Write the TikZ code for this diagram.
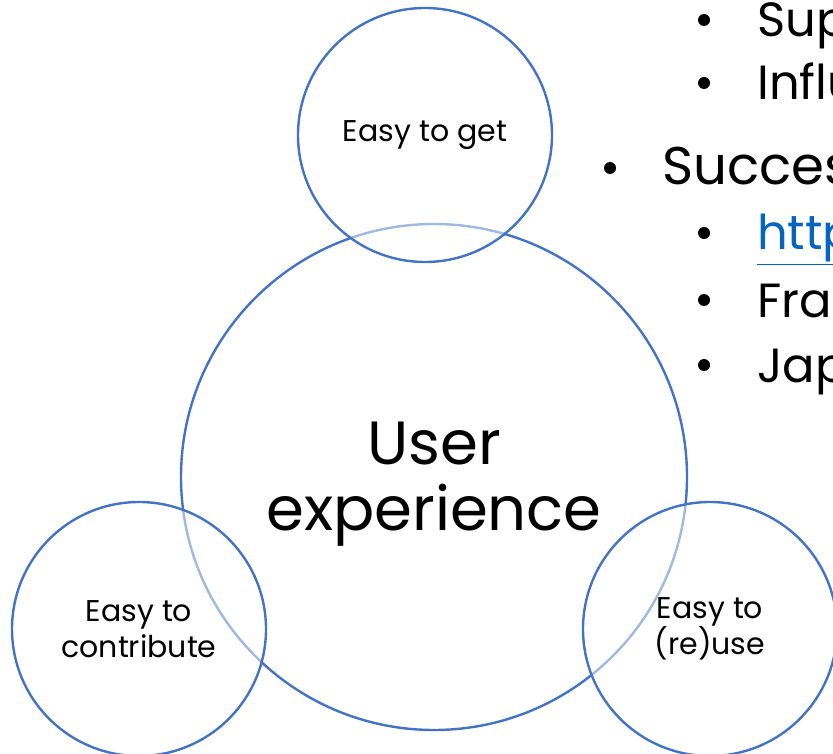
\documentclass[tikz,border=0pt]{standalone}
\usepackage{fontspec}
\setmainfont{Poppins}
\definecolor{accentblue}{RGB}{68,114,196}
\definecolor{linkblue}{RGB}{5,99,193}
\tikzset{
  bubble/.style={circle, draw=accentblue, line width=2.4pt, align=center, inner sep=0pt},
  minor/.style={bubble, minimum size=254pt, fill=white, fill opacity=0.5,
    text opacity=1, font=\fontsize{30}{36}\selectfont},
  dot/.style={circle, fill=black, inner sep=0pt, minimum size=12pt},
  itemone/.style={anchor=base west, inner sep=0pt, font=\fontsize{53}{60}\selectfont},
  itemtwo/.style={anchor=base west, inner sep=0pt, font=\fontsize{48}{56}\selectfont},
}
\begin{document}
\begin{tikzpicture}[x=1pt, y=-1pt]
  \useasboundingbox (0,0) rectangle (833,754);
  \clip (0,0) rectangle (833,754);

  % bullet list, cut off by the slide edge
  \foreach \ypos/\txt [count=\i] in {37/Sup, 100/Influ,
      250/{\color{linkblue}\underline{http}}, 317/Fran, 382/Jap} {
    \node[dot] (dot\i) at (704,\ypos-17) {};
    \node[itemtwo] (item\i) at (757,\ypos) {\txt};
  }
  \node[dot] (dotmain) at (610,168) {};
  \node[itemone] (itemmain) at (662,185) {Succes};

  % the circles
  \node[bubble, minimum size=506pt,
    label={[align=center, font=\fontsize{61}{66}\selectfont, yshift=-7pt]center:User\\experience}]
    (ux) at (434,477) {};
  \node[minor] (get) at (425,135) {Easy to get};
  \node[minor] (contrib) at (139,629) {Easy to\\contribute};
  \node[minor] (reuse) at (710,629) {Easy to\\(re)use};
\end{tikzpicture}
\end{document}
